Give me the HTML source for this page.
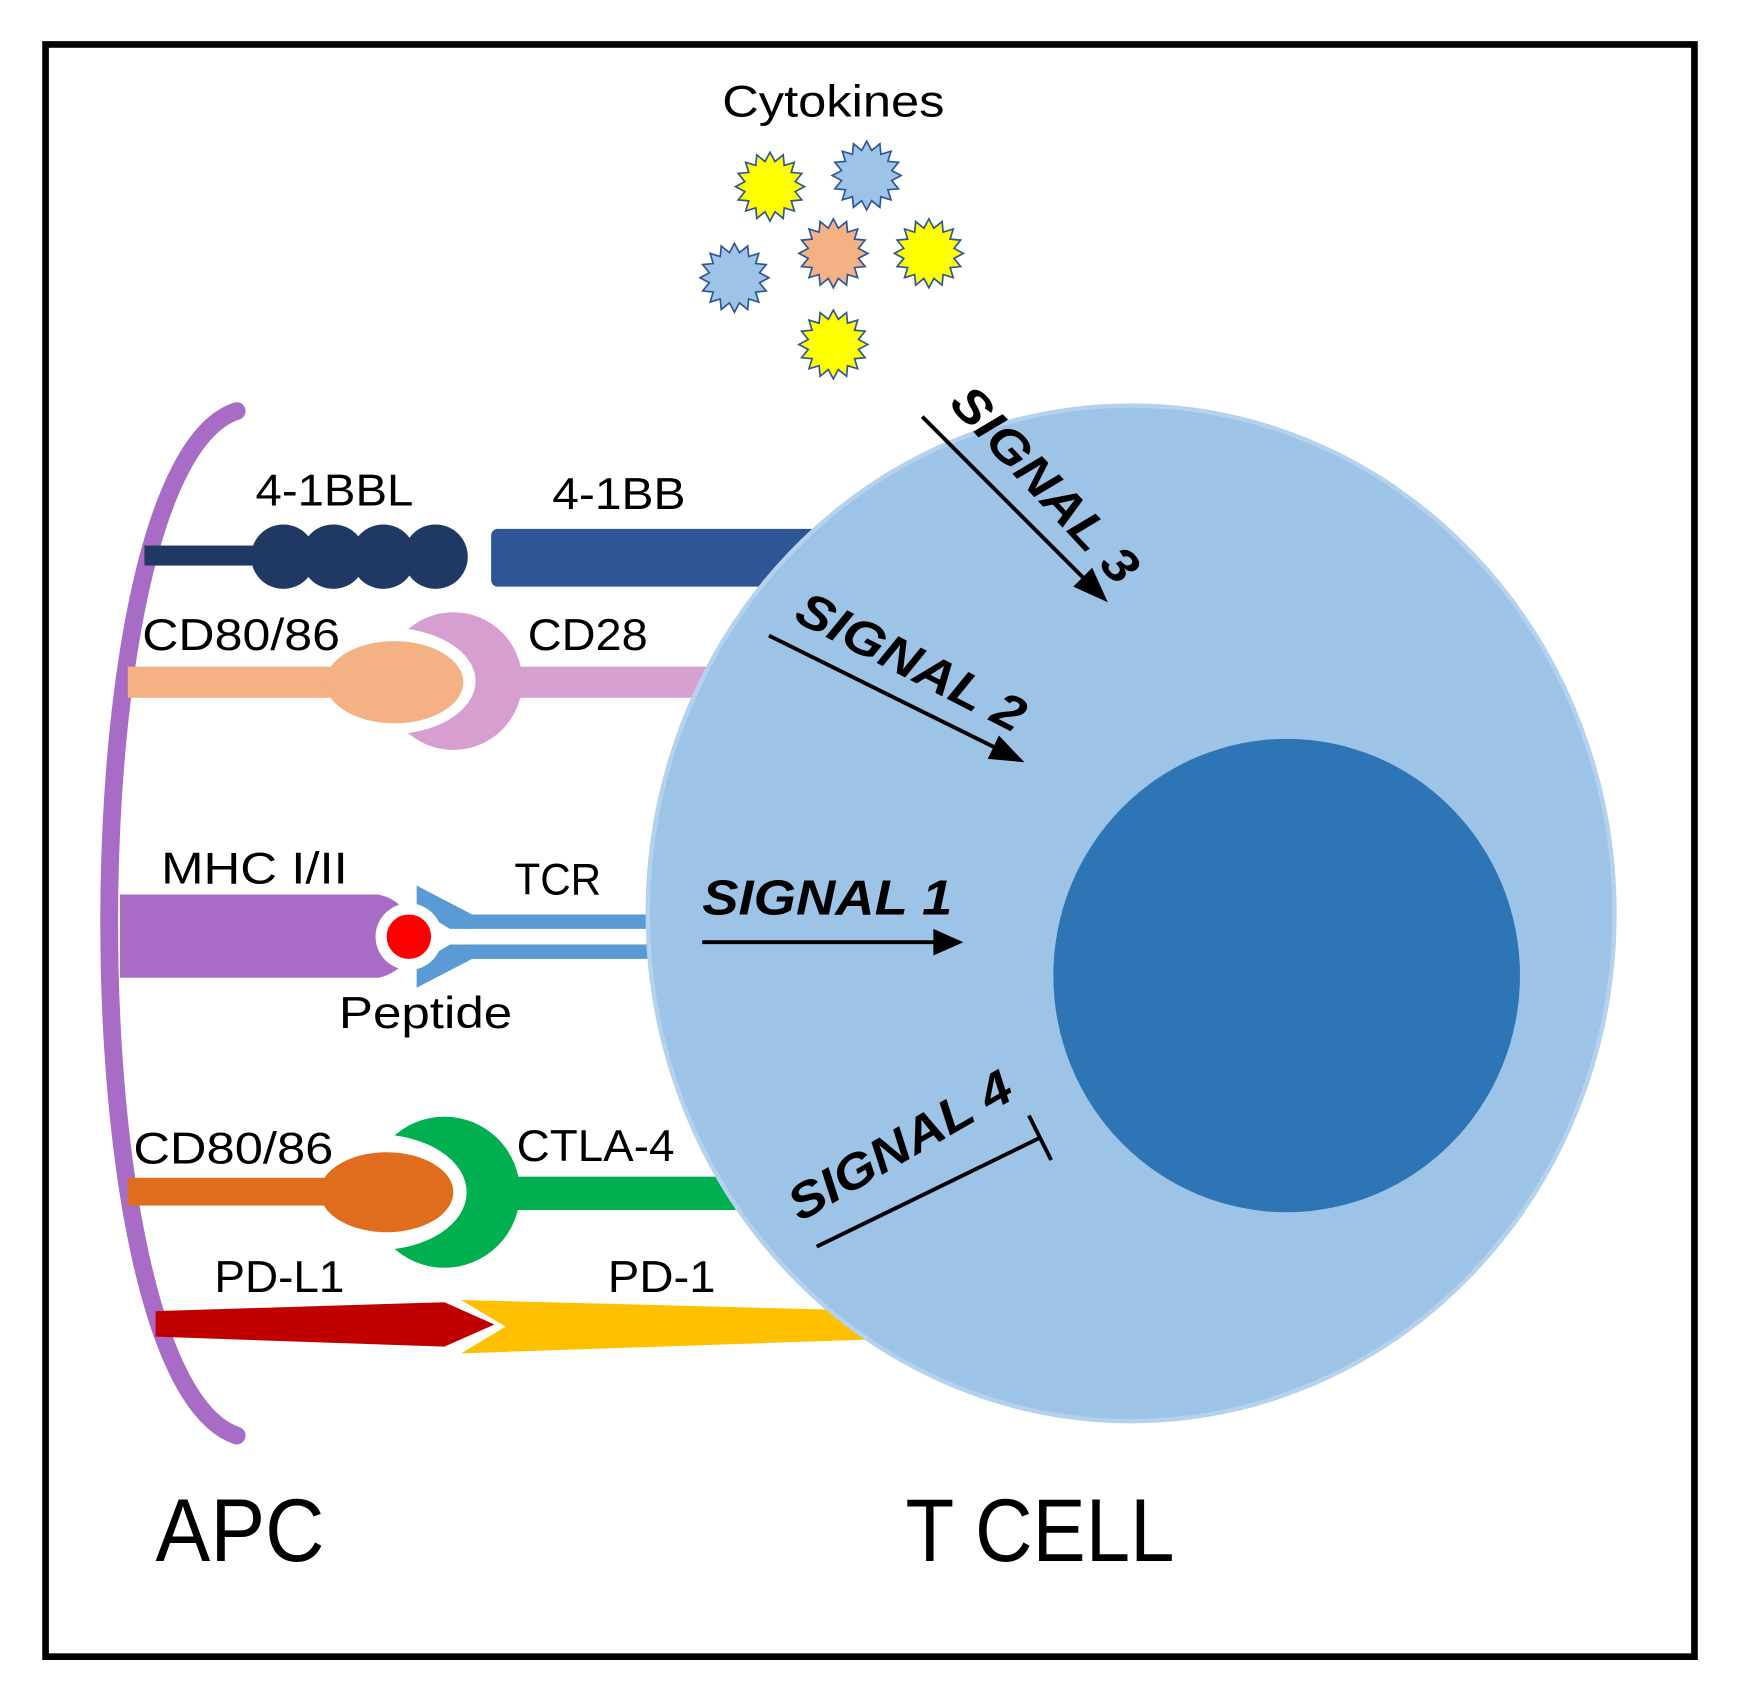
<!DOCTYPE html>
<html><head><meta charset="utf-8"><style>
html,body{margin:0;padding:0;background:#fff;}
svg{display:block;}
text{font-family:"Liberation Sans",sans-serif;}
</style></head><body>
<svg id="s" width="1740" height="1690" viewBox="0 0 1566 1521" preserveAspectRatio="none" xmlns="http://www.w3.org/2000/svg">
<rect x="0" y="0" width="1566" height="1521" fill="#fff"/>
<rect x="41" y="40" width="1484" height="1451" fill="#fff" stroke="#000" stroke-width="6"/>

<path d="M213,370 C60,420 60,1240 213,1292" fill="none" stroke="#A86BC6" stroke-width="16" stroke-linecap="round"/>

<rect x="442" y="476" width="320" height="52" rx="6" fill="#2F5597"/>
<rect x="455" y="600" width="200" height="28" fill="#D79FD0"/>
<rect x="420" y="823" width="180" height="13" fill="#5B9BD5"/>
<rect x="420" y="850" width="180" height="13" fill="#5B9BD5"/>
<polygon points="375,797 425,823 425,836 405,836 375,818" fill="#5B9BD5"/>
<polygon points="375,889 425,863 425,850 405,850 375,868" fill="#5B9BD5"/>
<rect x="440" y="1059" width="240" height="30" fill="#00B050"/>
<polygon points="415,1170 800,1180 800,1205 415,1218 455,1194" fill="#FFC000"/>

<ellipse cx="1018" cy="822" rx="435" ry="457" fill="#9DC3E6" stroke="#B4D2EE" stroke-width="4"/>
<ellipse cx="1158" cy="878" rx="210" ry="213" fill="#2E75B6"/>

<rect x="130" y="491" width="110" height="18" fill="#203864"/>
<circle cx="255" cy="501" r="29" fill="#203864"/>
<circle cx="300" cy="501" r="29" fill="#203864"/>
<circle cx="345" cy="501" r="29" fill="#203864"/>
<circle cx="392" cy="501" r="29" fill="#203864"/>

<circle cx="408" cy="613" r="62" fill="#D79FD0"/>
<ellipse cx="350" cy="613" rx="78" ry="48" fill="#fff"/>
<rect x="115" y="600" width="200" height="28" fill="#F4B183"/>
<ellipse cx="355" cy="614" rx="62" ry="37" fill="#F4B183"/>

<path d="M108,805 H340 A38,38 0 0 1 340,880 H108 Z" fill="#A86BC6"/>
<circle cx="368" cy="843" r="30" fill="#fff"/>
<circle cx="368" cy="843" r="20" fill="#FF0000"/>

<circle cx="400" cy="1073" r="68" fill="#00B050"/>
<ellipse cx="340" cy="1073" rx="80" ry="52" fill="#fff"/>
<rect x="115" y="1060" width="200" height="25" fill="#E06C1E"/>
<ellipse cx="348" cy="1073" rx="60" ry="36" fill="#E06C1E"/>

<polygon points="140,1180 400,1172 445,1192 400,1212 140,1203" fill="#C00000"/>

<g font-size="40" fill="#000">
<text x="230" y="455" textLength="142" lengthAdjust="spacingAndGlyphs">4-1BBL</text>
<text x="497" y="458" textLength="120" lengthAdjust="spacingAndGlyphs">4-1BB</text>
<text x="128" y="585" textLength="178" lengthAdjust="spacingAndGlyphs">CD80/86</text>
<text x="475" y="585" textLength="108" lengthAdjust="spacingAndGlyphs">CD28</text>
<text x="145" y="795" textLength="168" lengthAdjust="spacingAndGlyphs">MHC I/II</text>
<text x="463" y="805" textLength="78" lengthAdjust="spacingAndGlyphs">TCR</text>
<text x="305" y="925" textLength="156" lengthAdjust="spacingAndGlyphs">Peptide</text>
<text x="120" y="1047" textLength="180" lengthAdjust="spacingAndGlyphs">CD80/86</text>
<text x="465" y="1045" textLength="142" lengthAdjust="spacingAndGlyphs">CTLA-4</text>
<text x="193" y="1163" textLength="117" lengthAdjust="spacingAndGlyphs">PD-L1</text>
<text x="547" y="1163" textLength="97" lengthAdjust="spacingAndGlyphs">PD-1</text>
<text x="650" y="105" textLength="200" lengthAdjust="spacingAndGlyphs">Cytokines</text>
</g>
<text x="140" y="1405" font-size="80" textLength="152" lengthAdjust="spacingAndGlyphs">APC</text>
<text x="815" y="1405" font-size="80" textLength="242" lengthAdjust="spacingAndGlyphs">T CELL</text>

<g font-size="44" font-weight="bold" font-style="italic" fill="#000">
<text x="632" y="823" textLength="225" lengthAdjust="spacingAndGlyphs">SIGNAL 1</text>
<text transform="translate(713,558) rotate(27)" textLength="225" lengthAdjust="spacingAndGlyphs">SIGNAL 2</text>
<text transform="translate(853,364) rotate(47)" textLength="225" lengthAdjust="spacingAndGlyphs">SIGNAL 3</text>
<text transform="translate(720,1100) rotate(-30)" textLength="225" lengthAdjust="spacingAndGlyphs">SIGNAL 4</text>
</g>
<g stroke="#000" stroke-width="3.5" fill="#000">
<line x1="632" y1="848" x2="845" y2="848"/>
<polygon points="867,848 840,836 840,860" stroke="none"/>
<line x1="692" y1="572" x2="900" y2="675"/>
<polygon points="922,686 899,662 889,683" stroke="none"/>
<line x1="830" y1="375" x2="980" y2="525"/>
<polygon points="997,542 983,511 966,528" stroke="none"/>
<line x1="735" y1="1122" x2="936" y2="1024"/>
<line x1="926" y1="1004" x2="946" y2="1044"/>
</g>

<g id="stars"></g>
</svg>
<script>
var g=document.getElementById('stars');
var st=[[693,168,'#FFFF00'],[780,158,'#9DC3E6'],[750,228,'#F4B183'],[836,228,'#FFFF00'],[661,250,'#9DC3E6'],[750,310,'#FFFF00']];
st.forEach(function(s){var p=[];for(var i=0;i<32;i++){var a=i*Math.PI/16;var r=i%2?23:31;p.push((s[0]+r*Math.cos(a)).toFixed(1)+','+(s[1]+r*Math.sin(a)).toFixed(1));}
var e=document.createElementNS('http://www.w3.org/2000/svg','polygon');e.setAttribute('points',p.join(' '));e.setAttribute('fill',s[2]);e.setAttribute('stroke','#2F5597');e.setAttribute('stroke-width','1.5');g.appendChild(e);});
</script>
</body></html>
